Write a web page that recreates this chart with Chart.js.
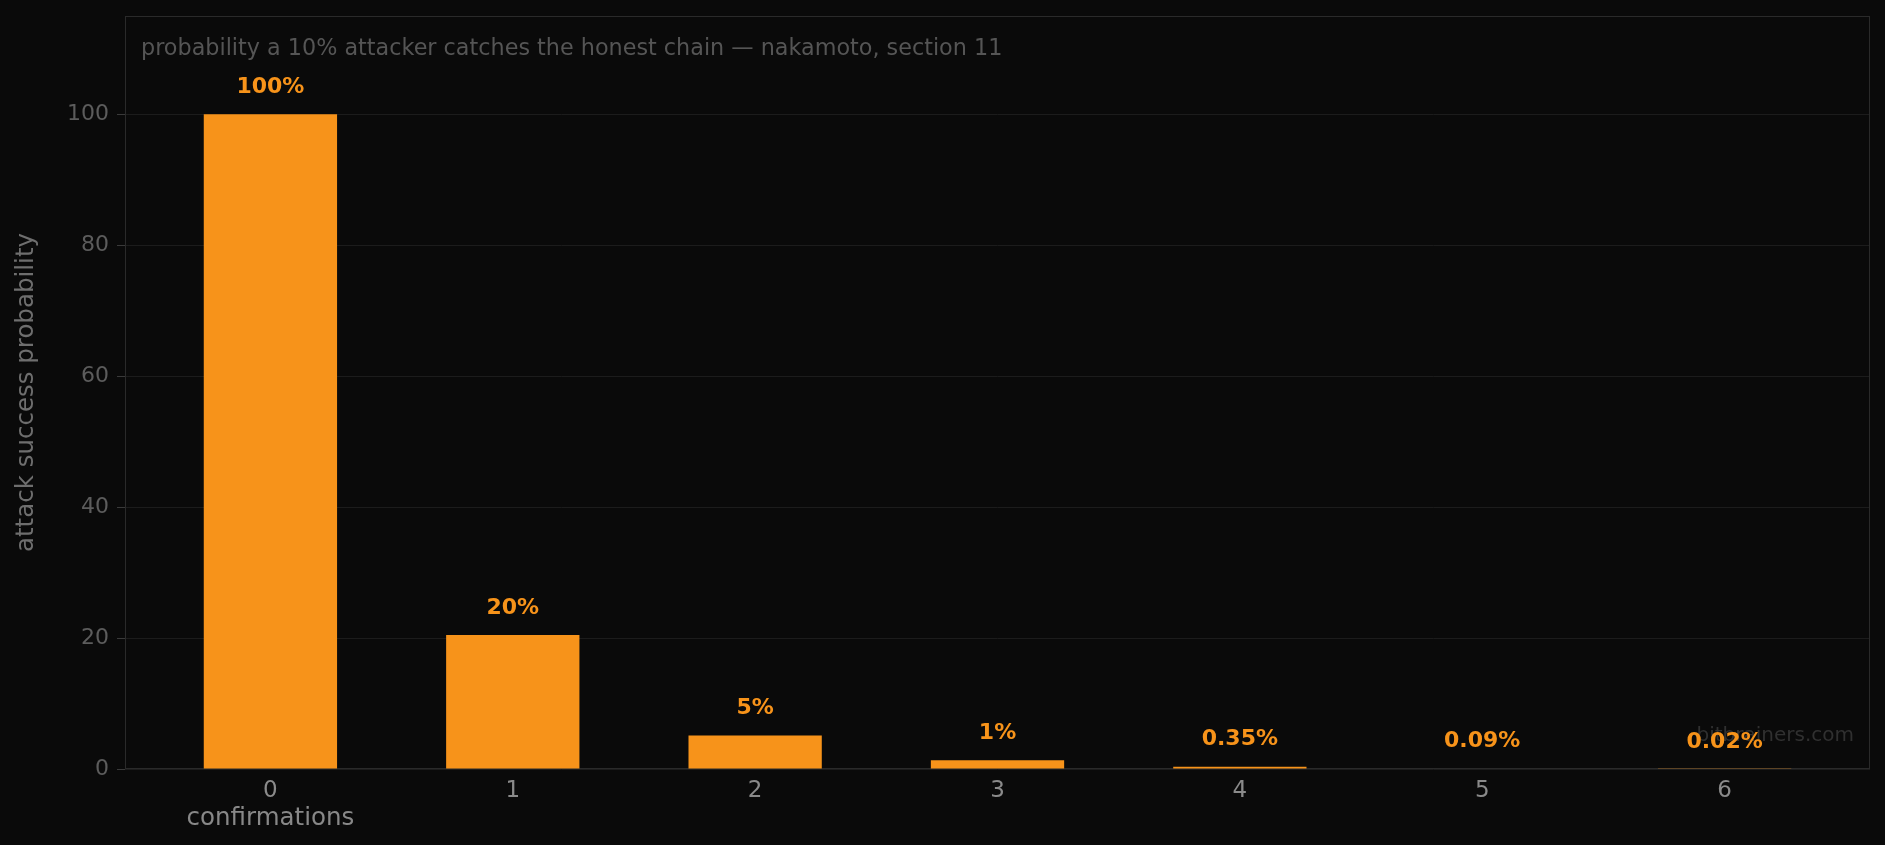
<!DOCTYPE html>
<html>
<head>
<meta charset="utf-8">
<script src="https://cdn.jsdelivr.net/npm/chart.js@4.4.1/dist/chart.umd.min.js"></script>
<style>
  html, body { margin: 0; padding: 0; background: #0a0a0a; overflow: hidden; }
  canvas { display: block; }
</style>
</head>
<body>
<canvas id="myChart" width="1885" height="845"></canvas>
<script>
// data (nakamoto's table for q = 0.1)
var confirmations = [0, 1, 2, 3, 4, 5, 6];
var attackProb = [100, 20.46, 5.10, 1.32, 0.35, 0.09, 0.02];
var barLabels = ['100%', '20%', '5%', '1%', '0.35%', '0.09%', '0.02%'];
var yTicks = [0, 20, 40, 60, 80, 100];

var titleText = 'probability a 10% attacker catches the honest chain \u2014 nakamoto, section 11';
var xTitle = 'confirmations';
var yTitle = 'attack success probability';
var watermark = 'bitbrainers.com';

var orange = '#f7931a';
var fam = "'DejaVu Sans', sans-serif";

var extras = {
  id: 'extras',
  beforeDatasetsDraw: function (chart) {
    var ctx = chart.ctx, a = chart.chartArea;
    ctx.save();
    // frame round the plot
    ctx.strokeStyle = '#2a2a2a';
    ctx.lineWidth = 1;
    ctx.strokeRect(a.left + 0.5, a.top + 0.5, a.right - a.left - 1, a.bottom - a.top - 1);
    // title inside the plot
    ctx.fillStyle = '#555555';
    ctx.font = '22.3px ' + fam;
    ctx.textAlign = 'left';
    ctx.textBaseline = 'middle';
    ctx.fillText(titleText, a.left + 16, a.top + 33);
    // watermark
    ctx.fillStyle = '#303030';
    ctx.font = '20px ' + fam;
    ctx.textAlign = 'right';
    ctx.fillText(watermark, a.right - 16, a.bottom - 33);
    ctx.restore();
  },
  afterDatasetsDraw: function (chart) {
    var ctx = chart.ctx;
    var meta = chart.getDatasetMeta(0);
    ctx.save();
    ctx.fillStyle = orange;
    ctx.font = 'bold 22px ' + fam;
    ctx.textAlign = 'center';
    ctx.textBaseline = 'middle';
    meta.data.forEach(function (bar, i) {
      ctx.fillText(barLabels[i], bar.x, bar.y - 27);
    });
    // x axis title sits under the first tick
    var xs = chart.scales.x;
    ctx.fillStyle = '#888888';
    ctx.font = '24.5px ' + fam;
    ctx.fillText(xTitle, xs.getPixelForValue(confirmations[0]), 818.5);
    ctx.restore();
  }
};

var ctx = document.getElementById('myChart').getContext('2d');
var myChart = new Chart(ctx, {
  type: 'bar',
  data: {
    datasets: [{
      label: 'attack success probability',
      data: confirmations.map(function (c, i) { return { x: c, y: attackProb[i] }; }),
      backgroundColor: orange,
      borderWidth: 0,
      barPercentage: 0.55,
      categoryPercentage: 1
    }]
  },
  options: {
    responsive: false,
    animation: false,
    layout: { padding: { top: 16, right: 15, bottom: 0, left: 0 } },
    plugins: {
      legend: { display: false },
      tooltip: { enabled: false }
    },
    scales: {
      x: {
        type: 'linear',
        offset: false,
        min: -0.6,
        max: 6.6,
        afterBuildTicks: function (s) { s.ticks = confirmations.map(function (v) { return { value: v }; }); },
        afterFit: function (s) { s.height = 76; s.paddingLeft = 0; s.paddingRight = 0; },
        grid: { display: false },
        border: { display: false },
        ticks: {
          color: '#8a8a8a',
          font: { family: fam, size: 23 },
          padding: 0,
          maxRotation: 0,
          autoSkip: false
        }
      },
      y: {
        min: 0,
        max: 115,
        afterBuildTicks: function (s) { s.ticks = yTicks.map(function (v) { return { value: v }; }); },
        afterFit: function (s) { s.width = 125; s.paddingTop = 0; s.paddingBottom = 0; },
        grid: { color: '#1c1c1c', tickColor: '#3a3a3a', tickLength: 8 },
        border: { display: false },
        ticks: {
          color: '#5c5c5c',
          font: { family: fam, size: 22 },
          padding: 8
        },
        title: {
          display: true,
          text: yTitle,
          color: '#6e6e6e',
          font: { family: fam, size: 24.5 },
          padding: { top: 12, bottom: 0 }
        }
      }
    }
  },
  plugins: [extras]
});
</script>
</body>
</html>
